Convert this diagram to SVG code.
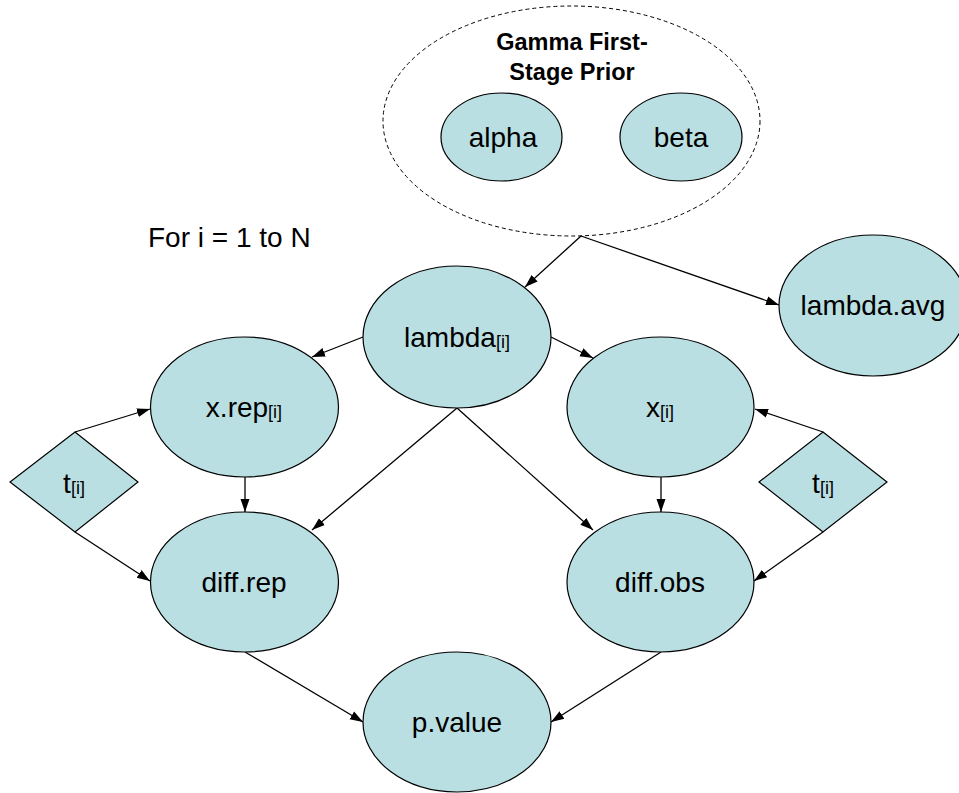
<svg xmlns="http://www.w3.org/2000/svg" width="959" height="793" viewBox="0 0 959 793">
<defs>
<style>
.node{fill:#BADFE2;stroke:#000;stroke-width:1.2}
.lbl{font-family:"Liberation Sans",Arial,sans-serif;font-size:28px;fill:#000;text-anchor:middle}
.sub{font-size:18px}
.title{font-family:"Liberation Sans",Arial,sans-serif;font-size:23.5px;font-weight:bold;fill:#000;text-anchor:middle}
.edge{stroke:#000;stroke-width:1.3;fill:none;marker-end:url(#arr)}
</style>
<marker id="arr" markerUnits="userSpaceOnUse" markerWidth="14" markerHeight="12" viewBox="0 0 14 12" refX="13" refY="6" orient="auto">
<path d="M0,1.5 L13,6 L0,10.5 Z" fill="#000"/>
</marker>
</defs>
<rect width="959" height="793" fill="#fff"/>

<g id="prior">
<ellipse cx="571.5" cy="121" rx="188.5" ry="115" fill="none" stroke="#000" stroke-width="1" stroke-dasharray="4,3"/>
<text class="title" x="572" y="50">Gamma First-</text>
<text class="title" x="572" y="80">Stage Prior</text>
</g>
<g id="alpha">
<ellipse class="node" cx="501.5" cy="137" rx="60.5" ry="44"/>
<text class="lbl" x="503" y="147">alpha</text>
</g>
<g id="beta">
<ellipse class="node" cx="681" cy="137" rx="61" ry="44"/>
<text class="lbl" x="681" y="147">beta</text>
</g>

<text id="loop-label" x="148" y="247" font-family="Liberation Sans, Arial, sans-serif" font-size="28" fill="#000">For i = 1 to N</text>

<g id="connectors">
<line class="edge" x1="581" y1="236" x2="525" y2="287"/>
<line class="edge" x1="581" y1="236" x2="779" y2="305"/>
<line class="edge" x1="363" y1="337" x2="312" y2="357"/>
<line class="edge" x1="551" y1="337" x2="593" y2="358"/>
<line class="edge" x1="457" y1="408" x2="312" y2="530"/>
<line class="edge" x1="457" y1="408" x2="593" y2="530"/>
<line class="edge" x1="75" y1="432" x2="150" y2="409"/>
<line class="edge" x1="75" y1="532" x2="150" y2="581"/>
<line class="edge" x1="823" y1="432" x2="755" y2="409"/>
<line class="edge" x1="823" y1="532" x2="754" y2="581"/>
<line class="edge" x1="245" y1="477" x2="245" y2="512"/>
<line class="edge" x1="661" y1="477" x2="661" y2="512"/>
<line class="edge" x1="245" y1="652" x2="363" y2="722"/>
<line class="edge" x1="661" y1="652" x2="551" y2="722"/>
</g>

<g id="lambda">
<ellipse class="node" cx="457" cy="337" rx="94" ry="71"/>
<text class="lbl" x="457" y="347">lambda<tspan class="sub" dy="1">[i]</tspan></text>
</g>
<g id="lambda-avg">
<ellipse class="node" cx="873" cy="305.5" rx="94" ry="70.5"/>
<text class="lbl" x="873" y="315">lambda.avg</text>
</g>
<g id="xrep">
<ellipse class="node" cx="244.5" cy="407" rx="94" ry="70"/>
<text class="lbl" x="244" y="417">x.rep<tspan class="sub" dy="1">[i]</tspan></text>
</g>
<g id="x">
<ellipse class="node" cx="660.5" cy="407" rx="93.5" ry="70"/>
<text class="lbl" x="660" y="417">x<tspan class="sub" dy="1">[i]</tspan></text>
</g>
<g id="t-left">
<polygon class="node" points="75,432 138,482 75,532 10,482"/>
<text class="lbl" x="74" y="493">t<tspan class="sub" dy="1">[i]</tspan></text>
</g>
<g id="t-right">
<polygon class="node" points="823,432 887,482 823,532 759,482"/>
<text class="lbl" x="823" y="493">t<tspan class="sub" dy="1">[i]</tspan></text>
</g>
<g id="diff-rep">
<ellipse class="node" cx="244.5" cy="582" rx="94" ry="70"/>
<text class="lbl" x="244" y="592">diff.rep</text>
</g>
<g id="diff-obs">
<ellipse class="node" cx="660.5" cy="582" rx="93.5" ry="70"/>
<text class="lbl" x="660" y="592">diff.obs</text>
</g>
<g id="p-value">
<ellipse class="node" cx="457" cy="722" rx="94" ry="70"/>
<text class="lbl" x="457" y="732">p.value</text>
</g>
</svg>
